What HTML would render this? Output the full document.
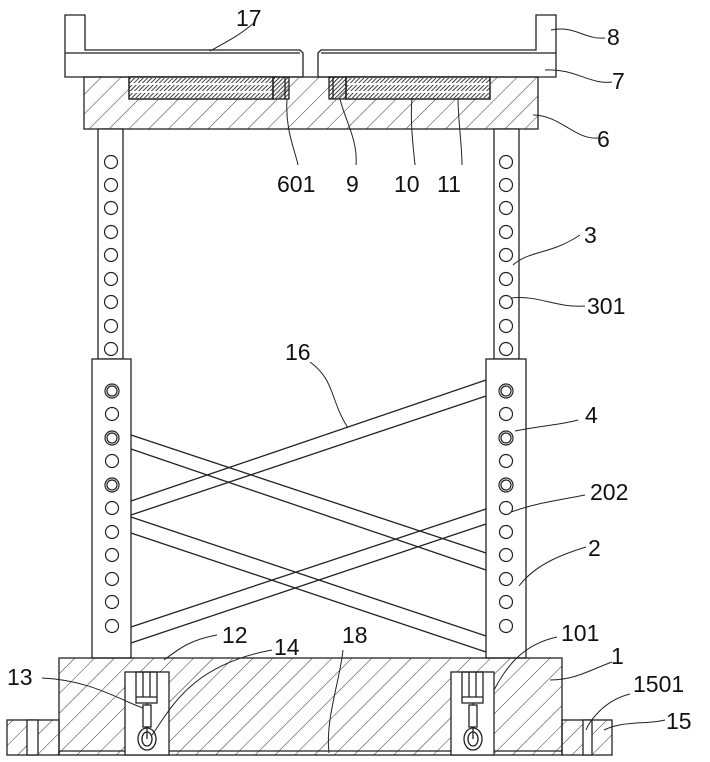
<!DOCTYPE html>
<html><head><meta charset="utf-8"><style>
html,body{margin:0;padding:0;background:#fff}
svg{display:block}
text{font-family:"Liberation Sans",sans-serif;font-size:23px;fill:#111}
</style></head><body>
<svg width="710" height="762" viewBox="0 0 710 762" xmlns="http://www.w3.org/2000/svg">
<defs>
<pattern id="h" width="14" height="14" patternUnits="userSpaceOnUse" patternTransform="rotate(45)">
<line x1="0" y1="0" x2="0" y2="14" stroke="#333" stroke-width="1"/>
</pattern>
<pattern id="h2" width="3" height="3" patternUnits="userSpaceOnUse" patternTransform="rotate(45)">
<line x1="0" y1="0" x2="0" y2="3" stroke="#111" stroke-width="1.6"/>
</pattern>
</defs>
<g fill="none" stroke="#222" stroke-width="1.3">
<path d="M65 15 H85 V50 H300 L303 53 V77 H65 Z" fill="#fff"/>
<path d="M556 15 H536 V50 H321 L318 53 V77 H556 Z" fill="#fff"/>
<line x1="65" y1="53" x2="300" y2="53"/>
<line x1="556" y1="53" x2="321" y2="53"/>
<rect x="84" y="77" width="454" height="52" fill="url(#h)"/>
<rect x="129" y="77" width="144" height="22" fill="#fff"/>
<rect x="129" y="78" width="144" height="5" fill="url(#h2)" stroke="none"/>
<rect x="129" y="85" width="144" height="6" fill="url(#h2)" stroke="none"/>
<rect x="129" y="93" width="144" height="5" fill="url(#h2)" stroke="none"/>
<rect x="129" y="77" width="144" height="22"/>
<rect x="273" y="77" width="16" height="22" fill="url(#h2)"/>
<line x1="285" y1="77" x2="285" y2="99"/>
<rect x="346" y="77" width="144" height="22" fill="#fff"/>
<rect x="346" y="78" width="144" height="5" fill="url(#h2)" stroke="none"/>
<rect x="346" y="85" width="144" height="6" fill="url(#h2)" stroke="none"/>
<rect x="346" y="93" width="144" height="5" fill="url(#h2)" stroke="none"/>
<rect x="346" y="77" width="144" height="22"/>
<rect x="329" y="77" width="17" height="22" fill="url(#h2)"/>
<line x1="333" y1="77" x2="333" y2="99"/>
<rect x="98" y="129" width="25" height="230" fill="#fff"/>
<rect x="494" y="129" width="25" height="230" fill="#fff"/>
<rect x="92" y="359" width="39" height="299" fill="#fff"/>
<rect x="486" y="359" width="40" height="299" fill="#fff"/>
<line x1="131" y1="501" x2="486" y2="380"/>
<line x1="131" y1="515" x2="486" y2="396"/>
<line x1="131" y1="435" x2="486" y2="553"/>
<line x1="131" y1="449" x2="486" y2="570"/>
<line x1="131" y1="517" x2="486" y2="636"/>
<line x1="131" y1="533" x2="486" y2="652"/>
<line x1="131" y1="627" x2="486" y2="509"/>
<line x1="131" y1="643" x2="486" y2="524"/>
</g>
<g fill="none" stroke="#222" stroke-width="1.2">
<circle cx="111" cy="162" r="6.5"/><circle cx="111" cy="185" r="6.5"/><circle cx="111" cy="208" r="6.5"/><circle cx="111" cy="232" r="6.5"/><circle cx="111" cy="255" r="6.5"/><circle cx="111" cy="279" r="6.5"/><circle cx="111" cy="302" r="6.5"/><circle cx="111" cy="326" r="6.5"/><circle cx="111" cy="349" r="6.5"/>
<circle cx="506" cy="162" r="6.5"/><circle cx="506" cy="185" r="6.5"/><circle cx="506" cy="208" r="6.5"/><circle cx="506" cy="232" r="6.5"/><circle cx="506" cy="255" r="6.5"/><circle cx="506" cy="279" r="6.5"/><circle cx="506" cy="302" r="6.5"/><circle cx="506" cy="326" r="6.5"/><circle cx="506" cy="349" r="6.5"/>
<circle cx="112" cy="391" r="7"/><circle cx="112" cy="391" r="5"/><circle cx="112" cy="414" r="6.5"/><circle cx="112" cy="438" r="7"/><circle cx="112" cy="438" r="5"/><circle cx="112" cy="461" r="6.5"/><circle cx="112" cy="485" r="7"/><circle cx="112" cy="485" r="5"/><circle cx="112" cy="508" r="6.5"/><circle cx="112" cy="532" r="6.5"/><circle cx="112" cy="555" r="6.5"/><circle cx="112" cy="579" r="6.5"/><circle cx="112" cy="602" r="6.5"/><circle cx="112" cy="626" r="6.5"/>
<circle cx="506" cy="391" r="7"/><circle cx="506" cy="391" r="5"/><circle cx="506" cy="414" r="6.5"/><circle cx="506" cy="438" r="7"/><circle cx="506" cy="438" r="5"/><circle cx="506" cy="461" r="6.5"/><circle cx="506" cy="485" r="7"/><circle cx="506" cy="485" r="5"/><circle cx="506" cy="508" r="6.5"/><circle cx="506" cy="532" r="6.5"/><circle cx="506" cy="555" r="6.5"/><circle cx="506" cy="579" r="6.5"/><circle cx="506" cy="602" r="6.5"/><circle cx="506" cy="626" r="6.5"/>
</g>
<g fill="none" stroke="#222" stroke-width="1.3">
<rect x="59" y="658" width="503" height="97" fill="url(#h)"/>
<line x1="59" y1="751" x2="562" y2="751"/>
<rect x="7" y="720" width="52" height="35" fill="url(#h)"/>
<rect x="27" y="720" width="11" height="35" fill="#fff"/>
<rect x="562" y="720" width="50" height="35" fill="url(#h)"/>
<rect x="583" y="720" width="9" height="35" fill="#fff"/>
<rect x="125" y="672" width="44" height="83" fill="#fff"/>
<rect x="136" y="672" width="21" height="31"/><line x1="143" y1="672" x2="143" y2="697"/><line x1="150" y1="672" x2="150" y2="697"/><line x1="136" y1="697" x2="157" y2="697"/>
<rect x="143" y="705" width="8" height="22"/><line x1="147" y1="703" x2="147" y2="705"/>
<ellipse cx="147" cy="739" rx="9" ry="11"/><ellipse cx="147" cy="739" rx="5" ry="7"/><line x1="147" y1="727" x2="147" y2="739"/>
<rect x="451" y="672" width="43" height="83" fill="#fff"/>
<rect x="462" y="672" width="21" height="31"/><line x1="469" y1="672" x2="469" y2="697"/><line x1="476" y1="672" x2="476" y2="697"/><line x1="462" y1="697" x2="483" y2="697"/>
<rect x="469" y="705" width="8" height="22"/><line x1="473" y1="703" x2="473" y2="705"/>
<ellipse cx="473" cy="739" rx="9" ry="11"/><ellipse cx="473" cy="739" rx="5" ry="7"/><line x1="473" y1="727" x2="473" y2="739"/>
</g>
<g fill="none" stroke="#222" stroke-width="1">
<path d="M210 51 C230 40 240 35 255 22"/>
<path d="M551 30 C575 25 585 40 605 38"/>
<path d="M545 70 C575 68 590 85 612 82"/>
<path d="M533 115 C560 115 575 140 598 138"/>
<path d="M287 99 C285 130 295 150 298 165"/>
<path d="M340 99 C345 120 358 140 356 165"/>
<path d="M412 98 C410 120 413 145 415 165"/>
<path d="M458 98 C458 120 462 145 462 165"/>
<path d="M513 265 C530 250 550 255 580 235"/>
<path d="M511 298 C540 295 555 308 585 306"/>
<path d="M348 428 C330 400 335 380 310 362"/>
<path d="M515 431 C545 425 560 425 578 420"/>
<path d="M511 512 C540 502 560 500 585 495"/>
<path d="M519 586 C535 565 560 555 586 547"/>
<path d="M164 660 C180 648 190 640 217 635"/>
<path d="M152 735 C170 710 190 665 272 650"/>
<path d="M329 753 C325 720 340 680 343 650"/>
<path d="M494 690 C505 670 520 645 557 637"/>
<path d="M550 680 C575 680 590 670 612 662"/>
<path d="M42 678 C90 680 120 700 143 708"/>
<path d="M586 730 C590 720 605 700 630 694"/>
<path d="M604 730 C625 720 645 725 665 720"/>
</g>
<text x="236" y="26">17</text>
<text x="607" y="45">8</text>
<text x="612" y="89">7</text>
<text x="597" y="147">6</text>
<text x="277" y="192">601</text>
<text x="346" y="192">9</text>
<text x="394" y="192">10</text>
<text x="437" y="192">11</text>
<text x="584" y="243">3</text>
<text x="587" y="314">301</text>
<text x="285" y="360">16</text>
<text x="585" y="423">4</text>
<text x="590" y="500">202</text>
<text x="588" y="556">2</text>
<text x="222" y="643">12</text>
<text x="274" y="655">14</text>
<text x="342" y="643">18</text>
<text x="561" y="641">101</text>
<text x="611" y="664">1</text>
<text x="7" y="685">13</text>
<text x="633" y="692">1501</text>
<text x="666" y="729">15</text>
</svg>
</body></html>
